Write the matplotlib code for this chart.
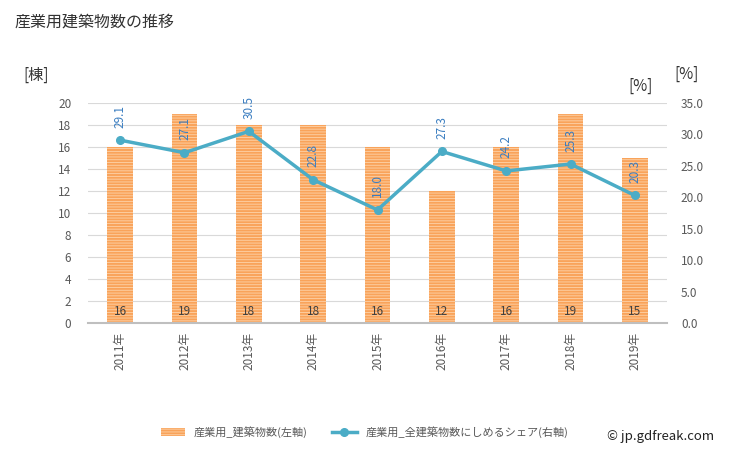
import matplotlib.pyplot as plt
import numpy as np

plt.rcParams['font.family'] = ['Noto Sans CJK JP', 'DejaVu Sans']
plt.rcParams['hatch.linewidth'] = 0.6

# データ
years = ['2011年', '2012年', '2013年', '2014年', '2015年', '2016年', '2017年', '2018年', '2019年']
buildings = [16, 19, 18, 18, 16, 12, 16, 19, 15]
share = [29.1, 27.1, 30.5, 22.8, 18.0, 27.3, 24.2, 25.3, 20.3]

bar_label = '産業用_建築物数(左軸)'
line_label = '産業用_全建築物数にしめるシェア(右軸)'

fig = plt.figure(figsize=(7.29, 4.5), dpi=100)
ax = fig.add_axes([0.1207, 0.282, 0.7943, 0.489])
ax2 = ax.twinx()

x = np.arange(len(years))
bars = ax.bar(x, buildings, width=0.4, color='#f9a35a', edgecolor='#fdd3aa',
              hatch='------', linewidth=0, label=bar_label, zorder=2)
for xi, v in zip(x, buildings):
    ax.text(xi, 0.5, str(v), ha='center', va='bottom', fontsize=8.5, color='#404040', zorder=3)

ax.set_ylim(0, 20)
ax.set_yticks(np.arange(0, 21, 2))
ax.set_xlim(-0.5, len(years) - 0.5)
ax.set_xticks(x)
ax.set_xticklabels(years, rotation=90, fontsize=8.5, color='#595959')
ax.tick_params(axis='y', labelsize=8.5, colors='#595959', length=0, pad=12)
ax.tick_params(axis='x', length=0, pad=6)
ax.grid(axis='y', color='#d9d9d9', linewidth=0.8, zorder=0)
ax.set_axisbelow(True)
for s in ['top', 'left', 'right']:
    ax.spines[s].set_visible(False)
ax.spines['bottom'].set_color('#bfbfbf')
ax.spines['bottom'].set_linewidth(1.5)

ax2.plot(x, share, color='#4bacc6', linewidth=2.5, marker='o', markersize=5.5,
         label=line_label, zorder=4)
for xi, v in zip(x, share):
    ax2.annotate(f'{v:.1f}', (xi, v), xytext=(0, 9), textcoords='offset points',
                 rotation=90, ha='center', va='bottom', fontsize=8.5, color='#3a7dc0')
ax2.set_ylim(0, 35)
ax2.set_yticks(np.arange(0, 35.1, 5))
ax2.set_yticklabels([f'{v:.1f}' for v in np.arange(0, 35.1, 5)])
ax2.tick_params(axis='y', labelsize=8.5, colors='#595959', length=0, pad=10)
for s in ['top', 'left', 'right', 'bottom']:
    ax2.spines[s].set_visible(False)

fig.text(0.02, 0.95, '産業用建築物数の推移', fontsize=11.5, color='#333333', va='center')
fig.text(0.032, 0.833, '[棟]', fontsize=11, color='#333333', va='center')
fig.text(0.862, 0.808, '[%]', fontsize=11, color='#333333', va='center')
fig.text(0.925, 0.835, '[%]', fontsize=11, color='#333333', va='center')

h1, l1 = ax.get_legend_handles_labels()
h2, l2 = ax2.get_legend_handles_labels()
fig.legend(h1 + h2, l1 + l2, loc='center', bbox_to_anchor=(0.5, 0.04), ncol=2,
           frameon=False, fontsize=8, handlelength=2.2, columnspacing=2.2,
           labelcolor='#595959')
fig.text(0.98, 0.03, '© jp.gdfreak.com', fontsize=9.5, color='#222222', ha='right', va='center')

fig.savefig('out.png', dpi=100)
